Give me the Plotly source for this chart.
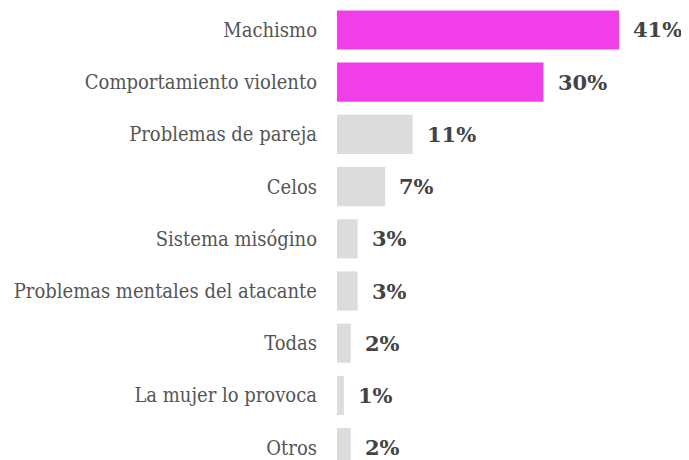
import plotly.graph_objects as go

categories = ["Machismo", "Comportamiento violento", "Problemas de pareja", "Celos",
              "Sistema misógino", "Problemas mentales del atacante", "Todas",
              "La mujer lo provoca", "Otros"]
values = [41, 30, 11, 7, 3, 3, 2, 1, 2]
highlight = [True, True, False, False, False, False, False, False, False]

colors = ["#f23ee8" if h else "#dcdcdc" for h in highlight]

fig = go.Figure(go.Bar(
    x=values, y=categories, orientation="h",
    marker=dict(color=colors, line=dict(width=0)),
    width=0.75, hoverinfo="skip",
))

for c, v in zip(categories, values):
    fig.add_annotation(x=v, y=c, text=f"<b>{v}%</b>", showarrow=False, xanchor="left",
                       xshift=12, font=dict(family="DejaVu Serif", size=21, color="#444444"))

fig.update_layout(
    width=689, height=460,
    margin=dict(l=329, r=0, t=0, b=0, autoexpand=False),
    paper_bgcolor="white", plot_bgcolor="white",
    showlegend=False,
    xaxis=dict(range=[0, 52.3], visible=False),
    yaxis=dict(type="category", range=[8.39, -0.421], showgrid=False, zeroline=False,
               showline=False, ticks="", ticklabelstandoff=19, automargin=False,
               tickfont=dict(family="DejaVu Serif Condensed", size=20, color="#555555")),
)

fig.write_html("out.html")
